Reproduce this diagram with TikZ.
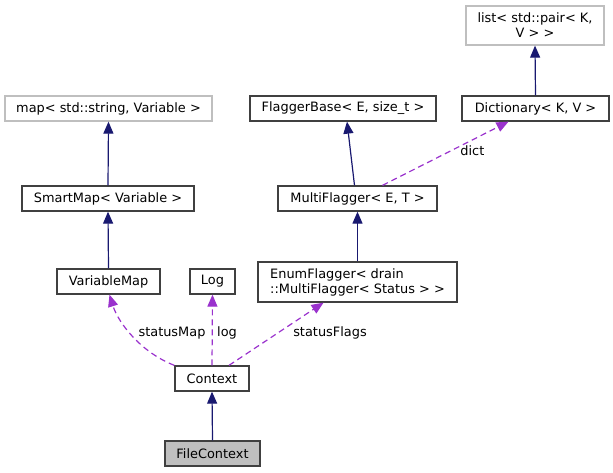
\documentclass[tikz,border=0pt]{standalone}
\usepackage{fontspec}
\setmainfont{DejaVu Sans}
\usetikzlibrary{arrows.meta}
\definecolor{navyline}{HTML}{191970}
\definecolor{usecol}{HTML}{9A32CD}
\definecolor{boxline}{HTML}{404040}
\definecolor{extline}{HTML}{BFBFBF}
\definecolor{focusfill}{HTML}{BFBFBF}
\tikzset{
  cls/.style={draw=boxline, line width=1.3pt, fill=white, minimum height=25pt, inner sep=2pt,
    font=\fontsize{12.9}{15}\selectfont},
  extcls/.style={cls, draw=extline},
  focus/.style={cls, fill=focusfill},
  inh/.style={draw=navyline, line width=1.2pt, -{Triangle[length=12pt,width=10pt]}},
  uses/.style={draw=usecol, line width=1.2pt, dash pattern=on 6pt off 4pt, -{Triangle[length=12pt,width=10pt]}},
  lbl/.style={inner sep=0pt, font=\fontsize{12.9}{15}\selectfont}
}
\begin{document}
\begin{tikzpicture}[x=1pt,y=-1pt]
\useasboundingbox (0,0) rectangle (613,473);
% classes
\node[extcls, minimum width=207pt] (map) at (108.5,108.5) {map< std::string, Variable >};
\node[cls, minimum width=172pt] (smart) at (108,198.5) {SmartMap< Variable >};
\node[cls, minimum width=103pt] (varmap) at (108.5,281.5) {VariableMap};
\node[cls, minimum width=45pt] (log) at (212.5,281.5) {Log};
\node[cls, minimum width=199pt, minimum height=40pt, align=left] (enum) at (357.5,282)
  {EnumFlagger< drain\\::MultiFlagger< Status > >};
\node[cls, minimum width=74pt] (ctx) at (212,378.5) {Context};
\node[focus, minimum width=95pt] (file) at (212.5,453.5) {FileContext};
\node[cls, minimum width=186pt] (fbase) at (343,108.5) {FlaggerBase< E, size\_t >};
\node[cls, minimum width=159pt] (multi) at (357.5,198.5) {MultiFlagger< E, T >};
\node[cls, minimum width=147pt] (dict) at (535.5,108.5) {Dictionary< K, V >};
\node[extcls, minimum width=138pt, minimum height=39pt, align=center] (list) at (535,25.5)
  {list< std::pair< K,\\V > >};
% inheritance
\draw[inh] (smart.north) -- (map.south);
\draw[inh] (varmap.north) -- (smart.south);
\draw[inh] (file.north) -- (ctx.south);
\draw[inh] ([xshift=-3pt]multi.north) -- ([xshift=4pt]fbase.south);
\draw[inh] (enum.north) -- (multi.south);
\draw[inh] (dict.north) -- (list.south);
% members
\draw[uses] ([xshift=25pt]multi.north) -- node[lbl, pos=.55, right=8pt] {dict} ([xshift=-27pt]dict.south);
\draw[uses] (ctx.north west) .. controls (140,352) and (118,322) .. ([xshift=1pt]varmap.south);
\node[lbl] (smlbl) at (172,333) {statusMap};
\draw[uses] (ctx.north) -- (log.south);
\node[lbl] (loglbl) at (227,333) {log};
\draw[uses] ([xshift=17pt]ctx.north) -- ([xshift=-34pt]enum.south);
\node[lbl] (sflbl) at (330,333) {statusFlags};
\end{tikzpicture}
\end{document}
